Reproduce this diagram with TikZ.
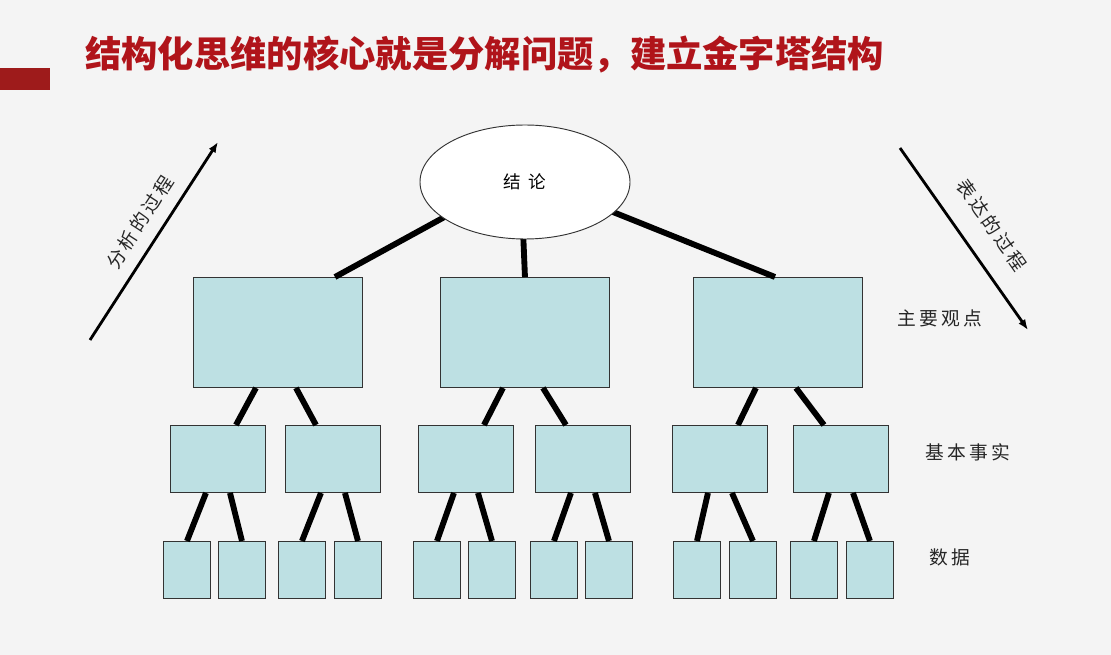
\documentclass[tikz,border=0pt]{standalone}
\usepackage{fontspec}
\newfontfamily\cjk{Noto Sans CJK SC}
\usetikzlibrary{calc,shapes.geometric,arrows.meta}
\definecolor{bg}{HTML}{F4F4F4}
\definecolor{boxc}{HTML}{BDE0E3}
\definecolor{tred}{HTML}{B0141A}
\definecolor{bar}{HTML}{9E1B1B}
\begin{document}
\begin{tikzpicture}[x=0.03cm,y=-0.03cm,
  bx/.style={draw=black!80,line width=0.8pt,fill=boxc,inner sep=0,anchor=north west},
  ln/.style={line width=5pt},
  lab/.style={font=\cjk\fontsize{16}{16}\selectfont,text=black!85}]
\fill[bg] (0,0) rectangle (1111,655);
\useasboundingbox (0,0) rectangle (1111,655);
\fill[bar] (0,68) rectangle (50,90);
\node[font=\cjk\bfseries\fontsize{31}{31}\selectfont,text=tred,anchor=west,inner sep=0] (title) at (85,55) {结构化思维的核心就是分解问题，建立金字塔结构};
% level 1
\foreach \i/\x in {1/193,2/440,3/693}{
  \node[bx,minimum width=169*0.03cm,minimum height=110*0.03cm] (a\i) at (\x,277) {};}
\coordinate (e1) at (450,214);\coordinate (e2) at (523,230);\coordinate (e3) at (603,208);
\draw[ln] (e1) -- ($(a1.north)+(57,0)$);
\draw[ln] (e2) -- (a2.north);
\draw[ln] (e3) -- ($(a3.north)+(-3,0)$);
\node[draw=black!80,line width=0.8pt,fill=white,ellipse,minimum width=210*0.03cm,minimum height=114*0.03cm,inner sep=0,font=\cjk\fontsize{15}{15}\selectfont] (top) at (525,182) {结\ \ 论};
% level 2
\foreach \i/\x in {1/170,2/285,3/418,4/535,5/672,6/793}{
  \node[bx,minimum width=95*0.03cm,minimum height=67*0.03cm] (b\i) at (\x,425) {};}
\foreach \p/\l/\r in {1/1/2,2/3/4,3/5/6}{
  \draw[ln] ($(a\p.south)+(-22,0)$) -- ($(b\l.north)+(18,0)$);
  \draw[ln] ($(a\p.south)+(18,0)$) -- ($(b\r.north)+(-17,0)$);}
% level 3
\foreach \i/\x in {1/163,2/218,3/278,4/334,5/413,6/468,7/530,8/585,9/673,10/729,11/790,12/846}{
  \node[bx,minimum width=47*0.03cm,minimum height=57*0.03cm] (c\i) at (\x,541) {};}
\foreach \p/\l/\r in {1/1/2,2/3/4,3/5/6,4/7/8,5/9/10,6/11/12}{
  \draw[ln] ($(b\p.south)+(-12,0)$) -- (c\l.north);
  \draw[ln] ($(b\p.south)+(12,0)$) -- (c\r.north);}
% labels
\node[lab] (l1) at (940,318) {主\,要\,观\,点};
\node[lab] (l2) at (968,452) {基\,本\,事\,实};
\node[lab] (l3) at (950,557) {数\,据};
% arrows
\coordinate (s1) at (90,340);\coordinate (t1) at (218,142);
\coordinate (s2) at (900,148);\coordinate (t2) at (1028,330);
\draw[line width=2.4pt,-{Latex[length=9pt,width=7pt]}] (s1) -- (t1);
\draw[line width=2.4pt,-{Latex[length=9pt,width=7pt]}] (s2) -- (t2);
\node[lab,rotate=57] (p1) at (140,222) {分\,析\,的\,过\,程};
\node[lab,rotate=-55] (p2) at (992,225) {表\,达\,的\,过\,程};
\end{tikzpicture}
\end{document}
